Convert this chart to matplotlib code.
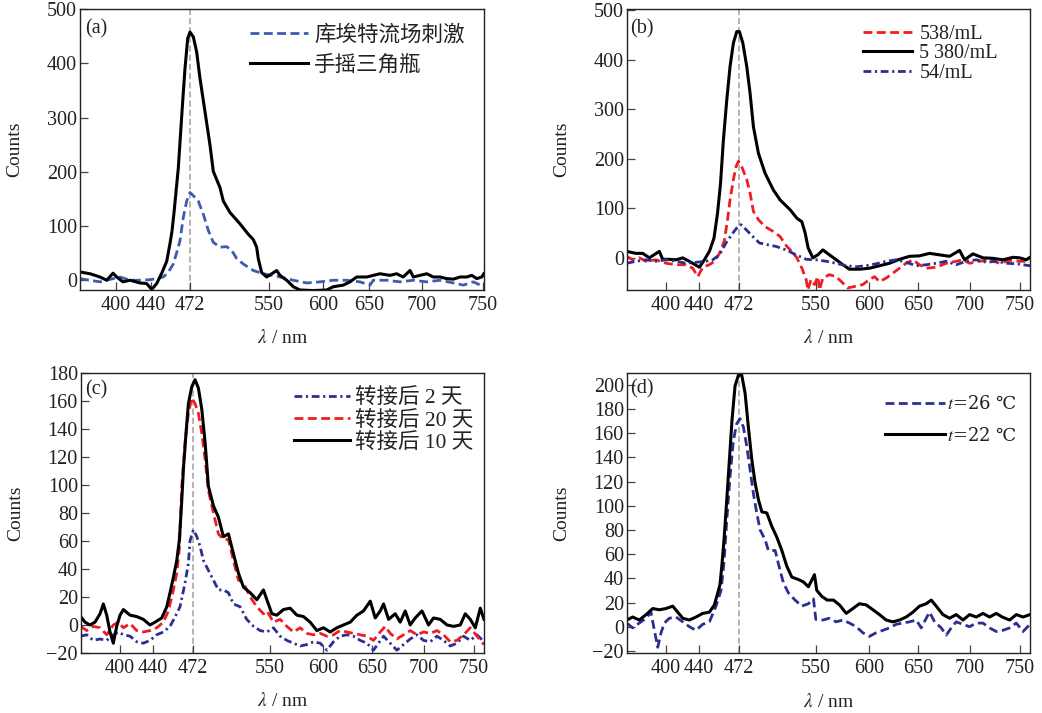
import numpy as np
import matplotlib
matplotlib.use("Agg")
import matplotlib.pyplot as plt

plt.rcParams['font.family'] = ['Liberation Serif', 'Noto Sans CJK SC']
plt.rcParams['mathtext.fontset'] = 'stix'
plt.rcParams['axes.unicode_minus'] = True

# ---------------- data ----------------
xtick_nm = [400, 440, 472, 550, 600, 650, 700, 750]

# (a)
a_couette_nm = [355, 367.5, 380, 396.6, 404.6, 416, 427.4, 438.9, 444.7, 450.1, 454.2, 458.3, 462.4, 463.8,
                466.5, 469.3, 472, 475.3, 480.2, 485.1, 490.1, 495, 501.6, 508.2, 513.2, 518.1, 524.6, 534.5,
                544.4, 560.2, 572.5, 584.9, 597.2, 611.2, 625.8, 640.2, 650.9, 654.1, 666.7, 679.2, 691.8,
                703.9, 714.8, 725.7, 733.9, 742.1, 750.8]
a_couette_counts = [3, 0, -3, 3, 6, 0, 0, 1, 3, 6, 15, 30, 61, 73, 116, 146, 162, 156, 146, 122, 92, 70, 61, 62,
                    55, 40, 30, 18, 12, 6, 0, -5, -3, 0, 0, -3, -9, 0, 0, -3, 0, -3, 0, -5, -9, -3, -12]
a_shake_nm = [356, 367.5, 380, 388.4, 396.3, 400.8, 408, 416, 427.4, 435, 440.6, 444.7, 448.8, 452.9, 455.6,
              457.2, 458.9, 462.4, 466, 467.9, 470.1, 472, 475.3, 478.6, 481.9, 486.8, 491.7, 495, 501.6, 504.9,
              511.5, 521.4, 529.5, 534.5, 537.8, 539.4, 542.8, 547.7, 552.5, 557.1, 560.2, 566.4, 572.5, 578.7,
              590.7, 604, 611.2, 622.1, 629.3, 636.6, 647.5, 654.1, 660.4, 669.8, 676.1, 682.3, 688.7, 691.8,
              698.1, 703.9, 709.3, 714.8, 720.3, 725.7, 731.2, 736.7, 740.8, 744.9, 749, 750.8]
a_shake_counts = [15, 12, 6, 0, 13, 6, -3, 0, -5, -6, -17, -6, 13, 35, 68, 90, 125, 207, 330, 391, 446, 458, 449,
                  421, 372, 311, 250, 201, 171, 146, 125, 104, 85, 75, 61, 40, 14, 6, 12, 18, 9, 0, -12, -18, -19,
                  -18, -12, -9, -3, 6, 6, 9, 12, 9, 12, 6, 18, 6, 9, 12, 6, 6, 3, 2, 6, 6, 9, 3, 6, 12]

# (b)
b_538_nm = [355, 361.9, 369.5, 377.3, 388.8, 400.4, 412.5, 424.6, 432.7, 438.8, 443.2, 448.5, 452.5, 456.6, 460.5,
            463, 465, 467.7, 469.8, 471.7, 475, 480.1, 483.4, 486.8, 491.9, 498.6, 507, 513.8, 520.6, 525.7,
            530.8, 536.1, 540.2, 541.9, 545.2, 548.6, 551.9, 553.4, 556.6, 562.8, 569.1, 575.5, 580.2, 588,
            594.3, 600.6, 605.7, 610.8, 617.6, 624.5, 631.2, 638, 644.9, 651.5, 658, 667.6, 677.2, 686.8,
            693.3, 699.6, 709.6, 719.6, 729.6, 739.6, 749.6, 760]
b_538_counts = [3, -4, 0, -7, -4, -11, -14, -14, -21, -38, -19, -14, -7, 9, 35, 77, 117, 158, 184, 195, 184, 158,
                131, 94, 77, 63, 53, 43, 23, 13, 0, -22, -44, -65, -44, -54, -38, -65, -41, -34, -38, -51, -61,
                -57, -54, -44, -38, -48, -41, -31, -21, -11, -4, -14, -21, -19, -11, -7, -4, -11, -7, -4, -11,
                -5, -7, -7]
b_5380_nm = [355, 365.7, 373.5, 381.1, 392.6, 396.5, 404.4, 412.5, 420.6, 432.7, 440.5, 444.5, 448.5, 452.2, 455,
             457.4, 459.7, 462.4, 465, 467.7, 470.4, 472.6, 476.1, 480.1, 483.4, 486.8, 491.9, 498.6, 507, 513.8,
             524, 530.8, 535.8, 539.2, 542.2, 547, 551.9, 556.6, 562.8, 569.2, 575.5, 581.7, 591.1, 600.6, 610.8,
             621, 631.2, 641.4, 651.5, 661.2, 670.8, 680.4, 690, 694.8, 703, 713, 723, 733, 743, 749.6, 756.3, 760]
b_5380_counts = [13, 9, 9, 0, 13, -3, -3, -4, 0, -11, -19, -4, 13, 40, 90, 150, 238, 319, 386, 434, 457, 457, 434,
                 386, 333, 265, 211, 171, 137, 117, 97, 80, 73, 50, 20, 0, 6, 16, 6, -4, -14, -23, -23, -21, -16,
                 -11, -3, 3, 4, 9, 6, 3, 15, -4, 8, 0, -1, -4, 1, 0, -4, 1]
b_54_nm = [355, 365.7, 377.3, 388.8, 400.4, 412.5, 424.6, 436.7, 445.8, 451.2, 456.5, 461.8, 467.2, 471.2, 474.3,
           479.4, 486.2, 492.9, 499.6, 509.8, 519.9, 530, 540.2, 550.3, 559.7, 569.1, 578.6, 588, 597.5, 607.4,
           617.6, 627.8, 638, 648.3, 658, 667.6, 677.2, 686.8, 696.4, 706.3, 716.3, 726.3, 736.3, 746.3, 760]
b_54_counts = [-11, -7, -4, -7, -4, -7, -11, -9, -7, -4, 6, 30, 50, 63, 67, 57, 43, 30, 27, 23, 16, 6, -3, -4, -7,
               -11, -16, -18, -16, -12, -7, -4, -9, -16, -14, -11, -7, -14, -7, -4, -9, -7, -11, -12, -16]

# (c)
c_2d_nm = [355, 361.9, 369.5, 377.3, 385, 392.6, 398.4, 404.4, 412.5, 420.6, 428.6, 436.7, 443.2, 448.5, 453.8,
           457.4, 461.8, 465.8, 468.5, 469.8, 472.6, 476.1, 479.4, 482.8, 487.8, 492.9, 497.9, 503, 508.1, 513.1,
           519.9, 526.6, 533.5, 540.2, 547, 553.4, 559.7, 566, 572.3, 578.6, 584.9, 591.1, 597.5, 604.1, 610.8,
           617.6, 624.5, 631.2, 638, 644.9, 651.5, 656.3, 661.2, 667.6, 674, 680.4, 686.8, 693.3, 699.6, 706.3,
           713, 719.6, 726.3, 733, 739.6, 746.3, 753, 760]
c_2d_counts = [-8, -7, -11, -10, -11, -7, -5, -7, -8, -12, -13, -11, -7, -5, -1, 5, 13, 30, 44, 60, 68, 63, 56, 46,
               39, 32, 25, 25, 23, 15, 13, 4, -1, -4, -5, -2, -8, -11, -13, -15, -14, -12, -13, -18, -12, -8, -7,
               -8, -11, -13, -18, -13, -8, -13, -18, -14, -10, -7, -11, -12, -8, -11, -15, -13, -8, -11, -7, -12]
c_20d_nm = [355, 361.9, 369.5, 377.3, 385, 392.6, 398.4, 404.4, 412.5, 420.6, 428.6, 436.7, 443.2, 448.5, 452.5,
            456.5, 459.2, 461.3, 463.2, 465.8, 468.5, 471.2, 474.3, 477.7, 481.1, 484.5, 487.8, 492.9, 497.9, 503,
            508.1, 513.1, 518.2, 523.3, 530.1, 536.8, 543.5, 547, 553.4, 559.7, 566, 572.3, 578.6, 584.9, 591.1,
            597.5, 604.1, 610.8, 617.6, 624.5, 631.2, 638, 644.9, 651.5, 658, 662.8, 667.6, 674, 680.4, 686.8,
            693.3, 699.6, 706.3, 713, 719.6, 726.3, 733, 739.6, 746.3, 753, 760]
c_20d_counts = [-1, -4, -1, -2, -7, 0, 2, -2, 1, -4, -5, -4, -2, 2, 10, 25, 37, 55, 99, 130, 151, 162, 158, 151,
                137, 118, 96, 80, 65, 61, 61, 46, 32, 30, 20, 13, 8, 10, 2, 4, -1, -5, -2, -6, -7, -6, -8, -7,
                -4, -5, -6, -7, -8, -11, -5, -1, -6, -10, -7, -4, -7, -5, -6, -4, -7, -12, -11, -7, -2, -8, -14]
c_10d_nm = [355, 360, 365.7, 371.5, 377.3, 381.1, 385, 388.8, 392.6, 396.5, 400.4, 404.4, 412.5, 420.6, 428.6,
            436.7, 441.8, 447.2, 451.2, 453.8, 456.5, 459.2, 461.3, 463.2, 464.5, 466.6, 468.5, 471.2, 474.3,
            477.7, 481.1, 484.5, 487.8, 492.9, 497.9, 503, 508.1, 513.1, 518.2, 523.3, 530.1, 536.8, 543.5, 547,
            551.9, 556.6, 562.8, 569.1, 575.5, 581.7, 588, 594.3, 600.6, 607.4, 614.3, 621, 627.9, 634.7, 641.4,
            648.3, 653.2, 658, 661.2, 666, 672.4, 677.2, 682, 686.8, 691.6, 698.1, 704.6, 709.6, 716.3, 723,
            729.6, 736.3, 741.3, 746.3, 751.3, 756.3, 760]
c_10d_counts = [6, 2, 0, 2, 8, 15, 7, -5, -13, -1, 7, 11, 7, 6, 4, 0, 2, 5, 13, 23, 34, 46, 61, 89, 111, 137, 158,
                170, 175, 169, 154, 130, 99, 85, 77, 63, 65, 51, 37, 27, 23, 18, 25, 18, 8, 7, 11, 12, 7, 6, 2,
                -4, -2, -5, -2, 0, 2, 7, 10, 17, 5, 10, 15, 4, 8, 2, 10, 0, 5, 10, 0, 5, 4, 0, -1, 0, 8, 4, -2,
                12, 4]

# (d)
d_26_nm = [355, 361.9, 369.5, 377.3, 383, 386.9, 390.8, 394.6, 398.4, 404.4, 412.5, 420.6, 428.6, 436.7, 443.2,
           448.5, 453.8, 457.8, 460.1, 462.4, 465, 467.7, 470.4, 473.3, 476.7, 480.1, 483.4, 486.8, 490.2, 493.6,
           498.6, 502, 508.8, 512.1, 517.2, 522.2, 529, 535.8, 542.5, 547.6, 550, 556.6, 562.8, 569.1, 575.5,
           581.7, 588, 594.3, 600.6, 607.4, 614.3, 621, 627.9, 634.7, 641.4, 648.3, 653.2, 658, 661.2, 666,
           672.4, 677.2, 682, 686.8, 693.3, 699.6, 706.3, 713, 719.6, 726.3, 733, 739.6, 746.3, 753, 760]
d_26_counts = [3, -1, 3, 7, 12, -3, -17, -5, 3, 7, 8, 4, 0, -3, 2, 4, 17, 30, 52, 88, 124, 154, 168, 172, 165, 149,
               130, 110, 94, 80, 72, 63, 63, 52, 36, 28, 22, 17, 19, 23, 6, 5.5, 7, 4, 5.5, 3, 0, -5, -8, -5, -3,
               -1, 2, 3, 4, 5.5, -1, 7, 12, 4, -1, -7, -1, 4, 2, 0, 3, 3, -1, -4, -3, -1, 3, -4, 2]
d_22_nm = [355, 361.9, 369.5, 377.3, 385, 392.6, 400.4, 408.5, 414.5, 420.6, 428.6, 436.7, 443.2, 448.5, 452.5,
           455.2, 457, 458.6, 460.2, 462.4, 464.5, 466.6, 469, 471.7, 475, 478.4, 481.7, 485.2, 488.5, 491.9,
           495.3, 500.4, 505.4, 510.5, 515.6, 520.6, 525.7, 532.4, 537.4, 542.5, 548.6, 550.9, 555.7, 560.7,
           566.6, 572.3, 578.6, 584.9, 591.1, 597.5, 604.1, 610.8, 617.6, 624.5, 631.2, 638, 644.9, 651.5, 658,
           662.8, 667.6, 674, 680.4, 686.8, 693.3, 699.6, 706.3, 713, 719.6, 726.3, 732.3, 739.6, 746.3, 753, 760]
d_22_counts = [5.5, 8, 5.5, 10, 15, 14, 15, 17, 12, 7, 5.5, 8, 11, 12, 18, 28, 35, 52, 72, 105, 138, 171, 199, 208,
               208, 193, 165, 138, 119, 105, 95, 94, 83, 74, 63, 50, 41, 39, 37, 33, 43, 30, 25, 22, 22, 18, 11,
               15, 19, 18, 14, 10, 5.5, 4, 5.5, 8, 12, 17, 19, 22, 17, 10, 7, 10, 5.5, 10, 8, 11, 8, 11, 8, 5.5,
               10, 8, 10]

# ---------------- styles / layout ----------------
BLUE_A = '#3c5cb0'
NAVY = '#2b2f92'
RED = '#ee1d25'
BLACK = '#000000'
DASH = (0, (3.2, 1.6))
DASHDOT = (0, (2.8, 1.3, 0.8, 1.3))

FS_TICK = 14.5
FS_LAB = 14

LEG_LATIN = dict(family=['Liberation Serif', 'Noto Sans CJK SC'], size=14.5)
LEG_CJK = dict(family=['Liberation Serif', 'Noto Sans CJK SC'], size=15.5)
LEG_DEG = dict(family=['DejaVu Serif'], size=13)


def nm_scale(nm_knots, pos_knots):
    nm = np.concatenate(([nm_knots[0] - 1e4], nm_knots, [nm_knots[-1] + 1e4]))
    pos = np.concatenate(([pos_knots[0] - 1e4], pos_knots, [pos_knots[-1] + 1e4]))

    def fwd(x):
        return np.interp(np.asarray(x, dtype=float), nm, pos)

    def inv(p):
        return np.interp(np.asarray(p, dtype=float), pos, nm)
    return fwd, inv


knots_a = ([355, 400, 440, 472, 550, 600, 650, 700, 750], [0, 36, 71, 110, 189, 243, 289, 342, 403])
knots_bcd = ([355, 400, 440, 472, 550, 600, 650, 700, 750, 760], [0, 39, 72, 112, 189, 242, 291, 343, 393, 403])

W, H = 1042, 713
fig = plt.figure(figsize=(W / 100, H / 100), dpi=100)


def make_axes(left, top, right, bottom):
    return fig.add_axes([left / W, 1 - bottom / H, (right - left) / W, (bottom - top) / H])


panels = [
    dict(box=(80, 9.3, 484, 290), knots=knots_a, xlim=(355, 751), ylim=(-18, 500),
         yticks=[0, 100, 200, 300, 400, 500], tag='(a)', tagpos=(0.012, 0.965),
         lines=[(a_couette_nm, a_couette_counts, BLUE_A, DASH, 2.0, '库埃特流场刺激'),
                (a_shake_nm, a_shake_counts, BLACK, '-', 2.2, '手摇三角瓶')],
         leg=dict(anchor=(0.42, 0.945), hl=2.7, htp=0.3, ls=0.45, prop=LEG_CJK)),
    dict(box=(626.7, 9.3, 1030, 290), knots=knots_bcd, xlim=(355, 760), ylim=(-65, 502),
         yticks=[0, 100, 200, 300, 400, 500], tag='(b)', tagpos=(0.008, 0.965),
         lines=[(b_538_nm, b_538_counts, RED, DASH, 2.0, '538/mL'),
                (b_5380_nm, b_5380_counts, BLACK, '-', 2.2, '5 380/mL'),
                (b_54_nm, b_54_counts, NAVY, DASHDOT, 2.0, '54/mL')],
         leg=dict(anchor=(0.586, 0.943), hl=2.45, htp=0.35, ls=0.0, prop=LEG_LATIN)),
    dict(box=(80.7, 372.7, 484, 653), knots=knots_bcd, xlim=(355, 760), ylim=(-20, 180),
         yticks=list(range(-20, 181, 20)), tag='(c)', tagpos=(0.011, 0.972),
         lines=[(c_2d_nm, c_2d_counts, NAVY, DASHDOT, 2.0, '转接后 2 天'),
                (c_20d_nm, c_20d_counts, RED, DASH, 2.0, '转接后 20 天'),
                (c_10d_nm, c_10d_counts, BLACK, '-', 2.2, '转接后 10 天')],
         leg=dict(anchor=(0.529, 0.945), hl=2.6, htp=0.25, ls=0.1, prop=LEG_CJK)),
    dict(box=(626.7, 372.7, 1030, 653.3), knots=knots_bcd, xlim=(355, 760), ylim=(-22, 210),
         yticks=list(range(-20, 201, 20)), tag='(d)', tagpos=(0.008, 0.975),
         lines=[(d_26_nm, d_26_counts, NAVY, DASH, 2.0, '$t$=26 ℃'),
                (d_22_nm, d_22_counts, BLACK, '-', 2.2, '$t$=22 ℃')],
         leg=dict(anchor=(0.641, 0.92), hl=3.3, htp=0.1, ls=0.75, prop=LEG_DEG)),
]

for p in panels:
    ax = make_axes(*p['box'])
    fwd, inv = nm_scale(*p['knots'])
    ax.set_xscale('function', functions=(fwd, inv))
    for x, y, c, ls, lw, lab in p['lines']:
        ax.plot(x, y, color=c, linestyle=ls, linewidth=lw, label=lab)
    ax.axvline(472, color='#a0a0a0', linestyle=(0, (4, 2)), linewidth=1.1, zorder=0.5)
    ax.set_xlim(*p['xlim'])
    ax.set_ylim(*p['ylim'])
    ax.set_xticks(xtick_nm)
    ax.set_xticklabels([str(v) for v in xtick_nm])
    ax.minorticks_off()
    ax.set_yticks(p['yticks'])
    ax.tick_params(direction='in', length=6, width=0.9, color='#444444',
                   labelsize=FS_TICK, labelcolor='#222222')
    ax.tick_params(axis='x', pad=4)
    ax.tick_params(axis='y', pad=2)
    for s in ax.spines.values():
        s.set_linewidth(1.0)
        s.set_color('#222222')
    ax.set_xlabel('$\\lambda$ / nm', fontsize=FS_LAB, color='#222222')
    ax.set_ylabel('Counts', fontsize=FS_LAB, color='#222222')
    ax.xaxis.set_label_coords(0.5, -0.14)
    ax.yaxis.set_label_coords(-0.141, 0.5)
    lg = p['leg']
    ax.legend(loc='upper left', bbox_to_anchor=lg['anchor'], frameon=False, borderpad=0,
              borderaxespad=0, handlelength=lg['hl'], handletextpad=lg['htp'],
              labelspacing=lg['ls'], prop=lg['prop'], labelcolor='#222222')
    ax.text(p['tagpos'][0], p['tagpos'][1], p['tag'], transform=ax.transAxes,
            ha='left', va='top', fontsize=FS_TICK, color='#222222')

fig.savefig('out.png', dpi=100)
